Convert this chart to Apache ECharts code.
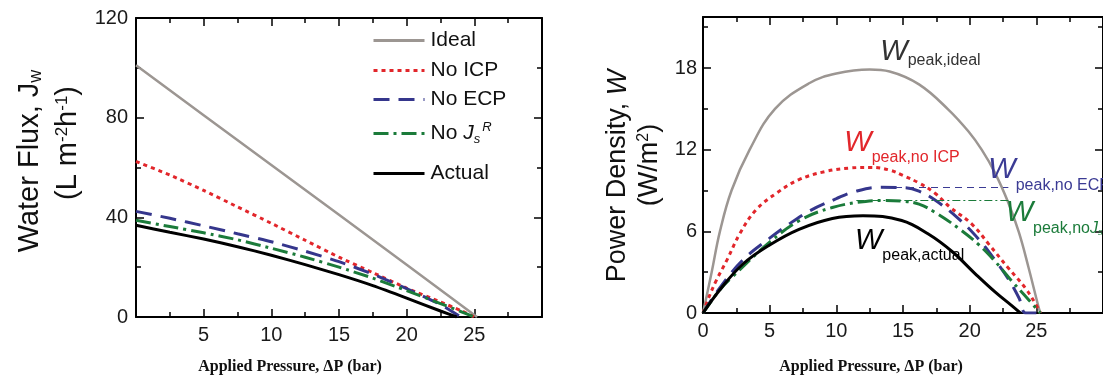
<!DOCTYPE html>
<html><head><meta charset="utf-8">
<script src="https://cdn.jsdelivr.net/npm/echarts@6/dist/echarts.min.js"></script>
<style>html,body{margin:0;padding:0;background:#fff;}#c{width:1103px;height:381px;}</style>
</head><body><div id="c"></div><script>
// ---------- Data ----------
const seriesNames = ['Ideal', 'No ICP', 'No ECP', 'No JsR', 'Actual'];
const xTickLabels = ['0', '5', '10', '15', '20', '25', '30'];
const fluxTickLabels = ['0', '40', '80', '120'];
const powerTickLabels = ['0', '6', '12', '18'];

// Left panel: water flux (L m-2 h-1) vs applied pressure (bar)
const idealFluxP = [0, 5, 10, 15, 20, 25.2];
const idealFlux  = [101, 81, 61, 41, 21, 0];
const noIcpFluxP = [0, 2.5, 5, 7.5, 10, 12.5, 15, 17.5, 20, 22.5, 24, 25];
const noIcpFlux  = [62.4, 57, 50.8, 44.2, 37.6, 30.8, 24, 17.8, 11.6, 6, 2.6, 0];
const noEcpFluxP = [0, 2.5, 5, 7.5, 10, 12.5, 15, 17.5, 20, 22.5, 24];
const noEcpFlux  = [42.4, 39.6, 36.6, 33.4, 30.2, 26.4, 22.2, 17.2, 11.4, 5.0, 0];
const noJsFluxP  = [0, 2.5, 5, 7.5, 10, 12.5, 15, 17.5, 20, 22.5, 24, 25];
const noJsFlux   = [38.8, 36.3, 33.8, 31, 27.6, 24, 20, 15.6, 10.6, 5.4, 2.2, 0];
const actualFluxP = [0, 2.5, 5, 7.5, 10, 12.5, 15, 17.5, 20, 22.5, 23.7];
const actualFlux  = [36.8, 34, 31.3, 28.2, 24.8, 21, 17, 12.6, 7.6, 2.4, 0];

// Right panel: power density (W/m2) vs applied pressure (bar)
const idealPowP = [0, 0.65, 1.27, 2.14, 3.5, 5.4, 8, 10, 12.5, 14, 16.2, 18.4, 19.9, 20.9, 21.9, 22.9, 23.7, 24.4, 25.15, 25.3];
const idealPow  = [0, 3, 6, 9, 12, 15, 16.9, 17.6, 17.9, 17.75, 16.8, 14.95, 13.35, 12, 10.3, 8.1, 5.9, 3.4, 0.5, 0];
const noIcpPowP = [0, 0.5, 1, 1.8, 2.8, 4, 5.5, 7.2, 9.2, 11, 12.6, 14, 15, 16.2, 17.4, 18.5, 20.2, 21.4, 22.9, 24.2, 25.1, 25.3];
const noIcpPow  = [0, 1.3, 2.4, 3.9, 5.9, 7.6, 8.8, 9.8, 10.4, 10.65, 10.7, 10.5, 10.1, 9.55, 8.8, 7.8, 6.5, 5.1, 3.3, 1.8, 0.4, 0];
const noEcpPowP = [0, 1.3, 3, 5, 6.25, 8, 10, 11.3, 13.2, 15.2, 16.2, 17.4, 19.2, 20.7, 21.9, 22.9, 23.7, 24.2, 25];
const noEcpPow  = [0, 1.9, 3.9, 5.5, 6.4, 7.5, 8.4, 8.9, 9.24, 9.2, 8.95, 8.3, 6.9, 5.4, 3.9, 2.5, 1.1, 0, 0];
const noJsPowP  = [0, 1.3, 2.25, 5, 7.24, 9.7, 12.2, 13.5, 14.9, 16.2, 17.4, 19.2, 20.7, 21.9, 23.2, 24.4, 25.3];
const noJsPow   = [0, 1.75, 2.7, 5.2, 6.8, 7.75, 8.2, 8.26, 8.22, 8.0, 7.4, 6.2, 5.0, 3.8, 2.3, 1.0, 0];
const actualPowP = [0, 1.3, 3, 5, 7.2, 9.7, 12, 14.9, 16.9, 18.7, 20.4, 21.9, 23.2, 23.8];
const actualPow  = [0, 1.75, 3.6, 5.0, 6.15, 6.95, 7.15, 6.8, 5.8, 4.5, 2.9, 1.55, 0.5, 0];

// Peak reference levels (W/m2) with their extent (bar)
const peakNoEcp = 9.24, peakNoEcpFrom = 13.5, peakNoEcpTo = 22.9;
const peakNoJs = 8.26, peakNoJsFrom = 11.5, peakNoJsTo = 22.9;

// ---------- Styles ----------
const FONT = "'Liberation Sans', Arial, sans-serif";
const COL = { ideal: '#9c9692', icp: '#e2262b', ecp: '#35368c', js: '#1b7b3a', act: '#000000' };
const LS = {
  ideal: { color: COL.ideal, width: 2.5, type: 'solid' },
  icp:   { color: COL.icp, width: 3, type: [4, 4] },
  ecp:   { color: COL.ecp, width: 3, type: [16, 9] },
  js:    { color: COL.js, width: 3, type: [15, 5, 3, 5] },
  act:   { color: COL.act, width: 3, type: 'solid' }
};
const zip = (a, b) => a.map((v, i) => [v, b[i]]);

function valAxis(gridIndex, pos, min, max, interval, opts) {
  opts = opts || {};
  return {
    type: 'value', gridIndex, position: pos, min, max, interval,
    axisLine: { show: opts.line !== false, onZero: false, lineStyle: { color: '#000', width: 2 } },
    axisTick: { show: true, inside: true, length: opts.tickLen || 8, lineStyle: { color: '#000', width: 1.5 } },
    minorTick: { show: !!opts.minor, splitNumber: 2, length: 5, lineStyle: { color: '#000', width: 1.5 } },
    splitLine: { show: false }, minorSplitLine: { show: false },
    axisLabel: {
      show: !!opts.labels, fontFamily: FONT, fontSize: 20, color: '#1a1a1a', margin: opts.margin || 8,
      showMinLabel: opts.showMin !== false, showMaxLabel: opts.showMax !== false,
      formatter: opts.fmt
    }
  };
}
const fmtFrom = (arr, step) => (v) => { const i = Math.round(v / step); return (Math.abs(v - i * step) < 1e-6 && arr[i] !== undefined) ? arr[i] : ''; };

const xAxes = [
  valAxis(0, 'bottom', 0, 30, 5, { minor: true, labels: true, showMin: false, showMax: false, fmt: fmtFrom(xTickLabels, 5) }),
  valAxis(0, 'top', 0, 30, 5, { minor: true }),
  valAxis(1, 'bottom', 0, 30, 5, { minor: true, labels: true, showMax: false, fmt: fmtFrom(xTickLabels, 5), margin: 8 }),
  valAxis(1, 'top', 0, 30, 5, { minor: true })
];
const yAxes = [
  valAxis(0, 'left', 0, 120, 40, { minor: true, labels: true, fmt: fmtFrom(fluxTickLabels, 40) }),
  valAxis(0, 'right', 0, 120, 40, { minor: true }),
  valAxis(1, 'left', 0, 21.75, 6, { labels: true, showMax: false, fmt: fmtFrom(powerTickLabels, 6), margin: 6 }),
  valAxis(1, 'left', 0, 21.75, 3, { line: false, tickLen: 5 }),
  valAxis(1, 'right', 0, 21.75, 6, {}),
  valAxis(1, 'right', 0, 21.75, 3, { line: false, tickLen: 5 })
];

function lineSeries(name, data, ls, xi, yi, extra) {
  return Object.assign({
    type: 'line', name, data, xAxisIndex: xi, yAxisIndex: yi,
    symbol: 'none', showSymbol: false, smooth: 0.4,
    lineStyle: ls, itemStyle: { color: ls.color }, z: 3, silent: true
  }, extra || {});
}

const annoRich = (color, pad) => ({
  w: { fontFamily: FONT, fontSize: 29, fontStyle: 'italic', color, verticalAlign: 'top' },
  s: { fontFamily: FONT, fontSize: 16, color, verticalAlign: 'bottom', padding: [pad, 0, 0, 0] },
  j: { fontFamily: FONT, fontSize: 16, fontStyle: 'italic', color, verticalAlign: 'bottom', padding: [pad, 0, 0, 0] },
  ss: { fontFamily: FONT, fontSize: 9, fontStyle: 'italic', color, verticalAlign: 'bottom', padding: [pad + 6, 0, 0, 0] },
  sr: { fontFamily: FONT, fontSize: 9, fontStyle: 'italic', color, verticalAlign: 'bottom', padding: [0, 0, 14, 0] }
});
function anno(coord, text, color, pad) {
  return {
    symbol: 'circle', symbolSize: 0, itemStyle: { color: 'rgba(0,0,0,0)' },
    data: [{ coord, value: 0 }],
    label: { show: true, position: 'right', distance: 0, formatter: text, rich: annoRich(color, pad) },
    silent: true, animation: false
  };
}

const series = [
  lineSeries(seriesNames[0], zip(idealFluxP, idealFlux), LS.ideal, 0, 0, { smooth: false }),
  lineSeries(seriesNames[1], zip(noIcpFluxP, noIcpFlux), LS.icp, 0, 0, { smooth: 0.2 }),
  lineSeries(seriesNames[2], zip(noEcpFluxP, noEcpFlux), LS.ecp, 0, 0, { smooth: 0.2 }),
  lineSeries(seriesNames[3], zip(noJsFluxP, noJsFlux), LS.js, 0, 0, { smooth: 0.2 }),
  lineSeries(seriesNames[4], zip(actualFluxP, actualFlux), LS.act, 0, 0, { smooth: 0.2 }),

  lineSeries('p_ideal', zip(idealPowP, idealPow), LS.ideal, 2, 2, {
    markPoint: anno([13.3, 19.1], '{w|W}{s|peak,ideal}', '#333333', 16)
  }),
  lineSeries('p_icp', zip(noIcpPowP, noIcpPow), LS.icp, 2, 2, {
    markPoint: anno([10.6, 12.2], '{w|W}{s|peak,no ICP}', COL.icp, 22)
  }),
  lineSeries('p_ecp', zip(noEcpPowP, noEcpPow), LS.ecp, 2, 2, {
    markPoint: anno([21.4, 10.15], '{w|W}{s|peak,no ECP}', '#3b3b94', 22)
  , markLine: {
      silent: true, symbol: ['none', 'none'], animation: false,
      lineStyle: { color: '#3b3b94', width: 1.2, type: [7, 5] }, label: { show: false },
      data: [[{ coord: [peakNoEcpFrom, peakNoEcp] }, { coord: [peakNoEcpTo, peakNoEcp] }]]
    }
  }),
  lineSeries('p_js', zip(noJsPowP, noJsPow), LS.js, 2, 2, {
    markPoint: anno([22.7, 7.0], '{w|W}{s|peak,no}{j|J}{ss|s}{sr|R}', COL.js, 22),
    markLine: {
      silent: true, symbol: ['none', 'none'], animation: false,
      lineStyle: { color: COL.js, width: 1.2, type: [8, 3, 2, 3] }, label: { show: false },
      data: [[{ coord: [peakNoJsFrom, peakNoJs] }, { coord: [peakNoJsTo, peakNoJs] }]]
    }
  }),
  lineSeries('p_act', zip(actualPowP, actualPow), LS.act, 2, 2, {
    markPoint: anno([11.4, 5.0], '{w|W}{s|peak,actual}', '#000', 22)
  })
];

const legendTops = [30, 60, 89, 121, 163];
const legends = seriesNames.map((n, i) => ({
  data: [n], left: 372, top: legendTops[i], orient: 'vertical', padding: 0, itemGap: 0,
  itemWidth: 51, itemHeight: 14, selectedMode: false,
  itemStyle: { opacity: 0 },
  lineStyle: { opacity: 1, width: 3 },
  textStyle: {
    fontFamily: FONT, fontSize: 21, color: '#111', padding: [0, 0, 0, 1],
    rich: {
      j: { fontFamily: FONT, fontSize: 21, fontStyle: 'italic', color: '#111' },
      s: { fontFamily: FONT, fontSize: 13, fontStyle: 'italic', color: '#111', verticalAlign: 'bottom', padding: [12, 0, 0, 0] },
      r: { fontFamily: FONT, fontSize: 13, fontStyle: 'italic', color: '#111', verticalAlign: 'top', padding: [0, 0, 12, 2] }
    }
  },
  formatter: (name) => name === 'No JsR' ? 'No {j|J}{s|s}{r|R}' : name
}));

const titleBase = { fontFamily: FONT, fill: '#111', align: 'center', verticalAlign: 'middle' };
const graphic = [
  { type: 'text', x: 30, y: 161, rotation: Math.PI / 2, silent: true,
    style: Object.assign({}, titleBase, { text: 'Water Flux, J{sub|w}', fontSize: 29,
      rich: { sub: { fontFamily: FONT, fontSize: 18, fill: '#111', verticalAlign: 'bottom', padding: [12, 0, 0, 0] } } }) },
  { type: 'text', x: 68, y: 143, rotation: Math.PI / 2, silent: true,
    style: Object.assign({}, titleBase, { text: '(L m{sup|-2}h{sup|-1})', fontSize: 29,
      rich: { sup: { fontFamily: FONT, fontSize: 17, fill: '#111', verticalAlign: 'top', padding: [0, 0, 12, 0] } } }) },
  { type: 'text', x: 618, y: 176, rotation: Math.PI / 2, silent: true,
    style: Object.assign({}, titleBase, { text: 'Power Density, {i|W}', fontSize: 27,
      rich: { i: { fontFamily: FONT, fontSize: 27, fontStyle: 'italic', fill: '#111' } } }) },
  { type: 'text', x: 650, y: 165, rotation: Math.PI / 2, silent: true,
    style: Object.assign({}, titleBase, { text: '(W/m{sup|2})', fontSize: 27,
      rich: { sup: { fontFamily: FONT, fontSize: 16, fill: '#111', verticalAlign: 'top', padding: [0, 0, 12, 0] } } }) },
  { type: 'text', x: 290, y: 367, silent: true,
    style: { text: 'Applied Pressure, \u0394P (bar)', fontFamily: "'Liberation Serif', 'Times New Roman', serif", fontWeight: 'bold', fontSize: 16, fill: '#111', align: 'center', verticalAlign: 'middle' } },
  { type: 'text', x: 871, y: 367, silent: true,
    style: { text: 'Applied Pressure, \u0394P (bar)', fontFamily: "'Liberation Serif', 'Times New Roman', serif", fontWeight: 'bold', fontSize: 16, fill: '#111', align: 'center', verticalAlign: 'middle' } }
];

const chart = echarts.init(document.getElementById('c'), null, { renderer: 'canvas' });
chart.setOption({
  animation: false,
  backgroundColor: '#ffffff',
  grid: [
    { left: 136, top: 18, width: 406, height: 299, containLabel: false },
    { left: 703, top: 17, width: 406, height: 296, containLabel: false }
  ],
  xAxis: xAxes,
  yAxis: yAxes,
  legend: legends,
  series,
  graphic
});
</script></body></html>
